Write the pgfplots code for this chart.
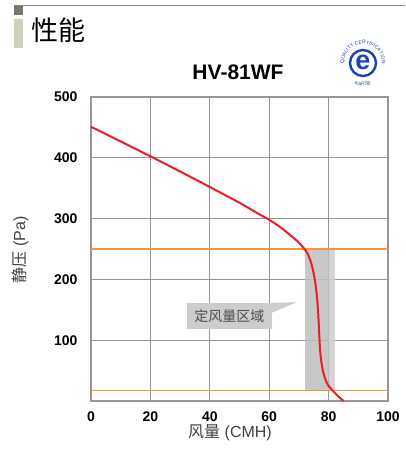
\documentclass[border=0pt]{standalone}
\usepackage{pgfplots}
\pgfplotsset{compat=1.18}
\usepackage{fontspec}
\setmainfont{Liberation Sans}
\newfontfamily\cjk{Noto Sans CJK SC}
\usetikzlibrary{decorations.text,calc}
\definecolor{curvered}{RGB}{237,28,36}
\definecolor{orangeln}{RGB}{247,148,62}
\definecolor{gridgray}{RGB}{150,150,150}
\definecolor{bandgray}{RGB}{190,190,192}
\definecolor{callgray}{RGB}{205,205,205}
\definecolor{logoblue}{RGB}{30,70,170}
\definecolor{hdrline}{RGB}{140,140,125}
\definecolor{hdrsq}{RGB}{120,120,110}
\definecolor{hdrbar}{RGB}{205,210,185}
\begin{document}
\begin{tikzpicture}
\useasboundingbox (0pt,0pt) rectangle (405pt,455pt);
\begin{axis}[
  at={(91pt,54pt)}, anchor=south west,
  width=297pt, height=304pt, scale only axis,
  xmin=0, xmax=100, ymin=0, ymax=500,
  xtick={0,20,40,60,80,100},
  ytick={100,200,300,400,500},
  major tick length=0pt,
  grid=major,
  grid style={gridgray,line width=1pt},
  axis line style={gridgray,line width=1.5pt},
  /pgf/number format/assume math mode=true,
  ticklabel style={font=\fontsize{14}{14}\selectfont\bfseries},
  xticklabel style={yshift=-7pt},
  yticklabel style={xshift=-10pt},
  clip=false,
]
\addplot[draw=none,fill=bandgray,fill opacity=0.85] coordinates {(72,17)(80,17)(80,250)(72,250)} -- cycle;
\addplot[draw=none,fill=bandgray!75,fill opacity=0.85] coordinates {(80,17)(82,17)(82,250)(80,250)} -- cycle;
\addplot[orangeln,line width=1.5pt] coordinates {(0,250)(100,250)};
\addplot[orangeln,line width=1.5pt] coordinates {(0,17)(100,17)};
\fill[callgray] (axis cs:32.3,118.8) rectangle (axis cs:61,161.7);
\fill[callgray] (axis cs:60.8,161.7) -- (axis cs:69.2,162.2) -- (axis cs:60.8,145) -- cycle;
\node[text=black!70,inner sep=0pt] at (axis cs:46.6,140.2) {\cjk\fontsize{14}{14}\selectfont 定风量区域};
\addplot[curvered,line width=2pt,smooth,tension=0.6] coordinates {
(0,451)(10,427)(20,402.5)(30,377.5)(40,352)(50,326)(56,309)(60,298)(64,285)(67,273)(69.5,263)(71.2,254)(72.6,245)(73.8,232)(74.8,214)(75.6,192)(76.2,165)(76.6,135)(76.9,105)(77.2,80)(77.8,57)(78.6,40)(79.6,28)(81,19)(83,9)(85,0)};
\end{axis}
% header
\fill[hdrline] (14pt,448.5pt) rectangle (405pt,449.5pt);
\fill[hdrsq] (14pt,440pt) rectangle (23pt,448.5pt);
\fill[hdrbar] (14pt,407pt) rectangle (23pt,436pt);
\node[anchor=west,inner sep=0pt] at (31pt,425pt) {\cjk\fontsize{27}{27}\selectfont 性能};
% title
\node[inner sep=0pt] at (238pt,383pt) {\fontsize{21}{21}\selectfont\bfseries HV-81WF};
% labels
\node[inner sep=0pt,text=black!75] at (230pt,22pt) {\fontsize{16}{16}\selectfont{\cjk 风量} (CMH)};
\node[inner sep=0pt,text=black!75,rotate=90] at (20pt,205pt) {\fontsize{16}{16}\selectfont{\cjk 静压} (Pa)};
% logo
\draw[logoblue,line width=2.4pt] (363pt,392pt) circle (13pt);
\node[inner sep=0pt,text=logoblue] at (363pt,392.5pt) {\fontsize{27}{27}\selectfont\bfseries e};
\path[decorate,decoration={text along path,text align=center,text={|\fontsize{5}{5}\selectfont\color{logoblue}|QUALITY CERTIFICATION}}] ($(363pt,392pt)+(205:19pt)$) arc (205:-25:19pt);
\path[decorate,decoration={text along path,text align=center,text={|\fontsize{5}{5}\selectfont\color{logoblue}|KARSE}}] ($(363pt,392pt)+(240:23pt)$) arc (240:300:23pt);
\end{tikzpicture}
\end{document}
